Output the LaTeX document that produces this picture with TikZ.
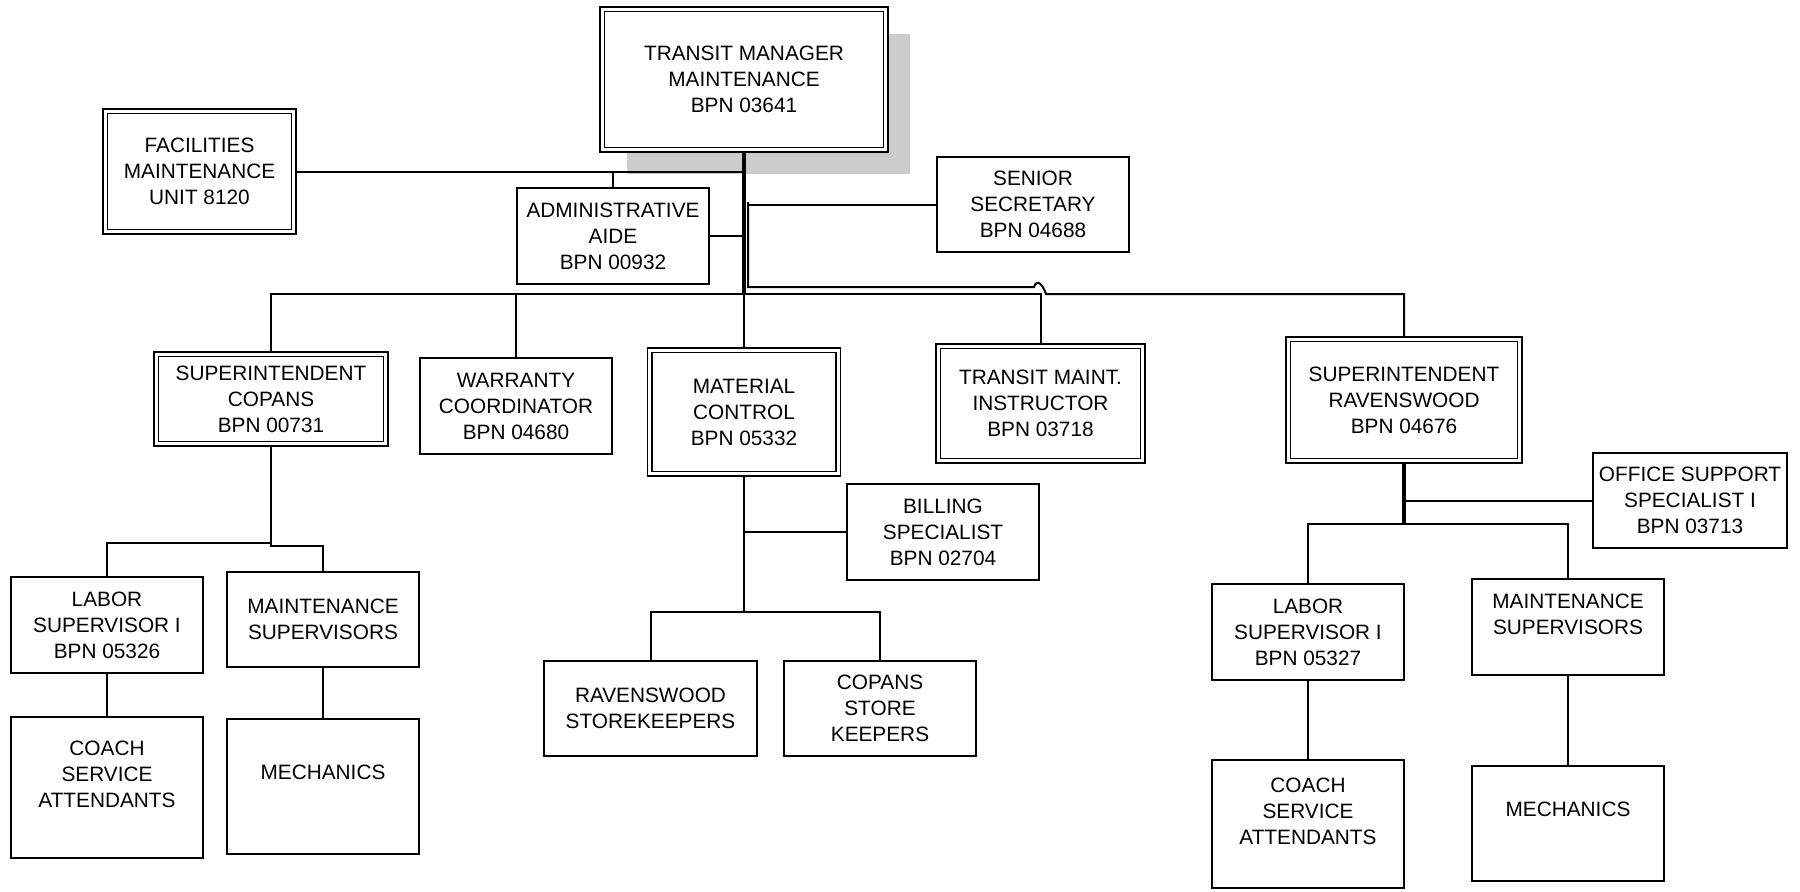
\documentclass[tikz,border=0pt]{standalone}
\usepackage{fontspec}
\setmainfont{Liberation Sans}
\usetikzlibrary{shadows}
\begin{document}
\begin{tikzpicture}[x=0.5pt,y=-0.5pt,
	font=\fontsize{10.4}{13}\selectfont,
	box/.style={draw, line width=1pt, fill=white, align=center, inner sep=0pt, minimum width=96pt, minimum height=48pt},
	dbox/.style={box, double, double distance=1.4pt, line width=0.85pt},
	link/.style={line width=1pt},
	trunk/.style={line width=1.8pt}]
		\useasboundingbox (0,0) rectangle (1800,891);
		\node[dbox, minimum width=141.7pt, minimum height=70.2pt, drop shadow={shadow xshift=12.3pt, shadow yshift=-12.3pt, fill=black!20, opacity=1}] (mgr) at (744,79.5) {TRANSIT MANAGER\\MAINTENANCE\\BPN 03641};
		\node[dbox, minimum width=94.2pt, minimum height=60.2pt] (fac) at (199.5,171.5) {FACILITIES\\MAINTENANCE\\UNIT 8120};
		\node[box] (adm) at (613,236) {ADMINISTRATIVE\\AIDE\\BPN 00932};
		\node[box, minimum height=47.5pt] (sec) at (1033,204.5) {SENIOR\\SECRETARY\\BPN 04688};
		\node[dbox, minimum width=114.7pt, minimum height=44.7pt] (cop) at (271,399) {SUPERINTENDENT\\COPANS\\BPN 00731};
		\node[box] (war) at (516,406) {WARRANTY\\COORDINATOR\\BPN 04680};
		\node[dbox, minimum width=94.2pt, minimum height=61.7pt] (mat) at (744,412) {MATERIAL\\CONTROL\\BPN 05332};
		\node[dbox, minimum width=102.2pt, minimum height=57.2pt] (ins) at (1040.5,403.5) {TRANSIT MAINT.\\INSTRUCTOR\\BPN 03718};
		\node[dbox, minimum width=115.7pt, minimum height=60.7pt] (rav) at (1404,400) {SUPERINTENDENT\\RAVENSWOOD\\BPN 04676};
		\node[box] (bil) at (943,532) {BILLING\\SPECIALIST\\BPN 02704};
		\node[box, minimum width=106.5pt, minimum height=47.5pt] (rst) at (650.5,708.5) {RAVENSWOOD\\STOREKEEPERS};
		\node[box, minimum height=47.5pt] (cst) at (880,708.5) {COPANS\\STORE\\KEEPERS};
		\node[box, minimum width=97pt, minimum height=47.5pt] (off) at (1690,500.5) {OFFICE SUPPORT\\SPECIALIST I\\BPN 03713};
		\node[box] (lab1) at (107,625) {LABOR\\SUPERVISOR I\\BPN 05326};
		\node[box, minimum height=47.5pt] (ms1) at (323,619.5) {MAINTENANCE\\SUPERVISORS};
		\node[box, minimum height=70.5pt] (coa1) at (107,787.5) {COACH\\SERVICE\\ATTENDANTS\\\mbox{}};
		\node[box, minimum height=67.5pt, text depth=14.5pt] (mec1) at (323,786.5) {MECHANICS};
		\node[box] (lab2) at (1308,632) {LABOR\\SUPERVISOR I\\BPN 05327};
		\node[box] (ms2) at (1568,627) {MAINTENANCE\\SUPERVISORS\\\mbox{}};
		\node[box, minimum height=64pt] (coa2) at (1308,824) {COACH\\SERVICE\\ATTENDANTS\\\mbox{}};
		\node[box, minimum height=57.5pt, text depth=14.5pt] (mec2) at (1568,823.5) {MECHANICS};
		\coordinate (bus) at (744,294);
		\coordinate (tap) at (748,202);
		\coordinate (hop) at (1034,287);
		\draw[trunk, shorten <=0.8pt] (mgr.south) -- (bus);
		\draw[link, shorten >=0.8pt] (bus) -- (mat.north);
		\draw[link, shorten <=0.8pt] (fac.east) -- (fac.east -| bus);
		\draw[link] (adm.north) -- (adm.north |- fac.east);
		\draw[link] (adm.east) -- (adm.east -| bus);
		\draw[link] (sec.west) -- (sec.west -| tap);
		\draw[link, shorten >=0.8pt] (tap) |- (hop) .. controls +(3,-9) and +(-3,-9) .. ++(12,7) -| (rav.north);
		\draw[link, shorten <=0.8pt, shorten >=0.8pt] (cop.north) |- (bus) -| (ins.north);
		\draw[link] (war.north) -- (war.north |- bus);
		\draw[link, shorten <=0.8pt] (cop.south) -- ++(0,98) -| (lab1.north);
		\draw[link, shorten <=0.8pt] (cop.south) -- ++(0,101) -| (ms1.north);
		\draw[link] (lab1) -- (coa1);
		\draw[link] (ms1) -- (mec1);
		\draw[link, shorten <=0.8pt] (mat.south) -- ++(0,137) coordinate (mj);
		\draw[link] (bil.west) -- (bil.west -| mj);
		\draw[link] (rst.north) |- (mj) -| (cst.north);
		\draw[trunk, shorten <=0.8pt] (rav.south) -- ++(0,62) coordinate (rj);
		\draw[link] (off.west) -- (off.west -| rj);
		\draw[link] (lab2.north) |- (rj) -| (ms2.north);
		\draw[link] (lab2) -- (coa2);
		\draw[link] (ms2) -- (mec2);
	\end{tikzpicture}
\end{document}
